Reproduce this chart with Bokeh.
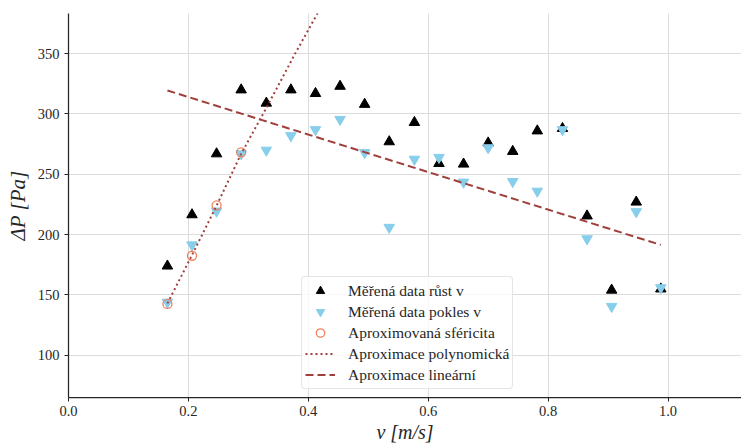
from bokeh.plotting import figure
from bokeh.models import Range1d, Legend, LegendItem, NumeralTickFormatter
from bokeh.embed import file_html
from bokeh.resources import INLINE

# measured velocities [m/s]
v = [0.165, 0.206, 0.247, 0.288, 0.330, 0.371, 0.412, 0.453, 0.494, 0.535, 0.577,
     0.618, 0.659, 0.700, 0.741, 0.782, 0.824, 0.865, 0.906, 0.947, 0.988]
# pressure drop, increasing velocity
dp_rust = [174, 216.5, 267, 320, 309, 320, 317, 323, 308, 277, 293,
           259, 258.5, 276, 269, 286, 288, 215.5, 154, 227, 155]
# pressure drop, decreasing velocity
dp_pokles = [144, 191.5, 219.5, 267, 270, 282, 287, 295.5, 268, 206, 262.5,
             264, 243.5, 272, 244, 236, 287, 196.5, 140.5, 219, 156]
# approximated sphericity
v_sfer = [0.165, 0.206, 0.247, 0.288]
dp_sfer = [142.6, 182.5, 224.3, 268.2]
# polynomial approximation
v_poly = [0.165, 0.206, 0.247, 0.288, 0.330, 0.378, 0.416]
dp_poly = [143, 183, 224, 267, 305, 350, 384]
# linear approximation
v_lin = [0.165, 0.988]
dp_lin = [319.5, 191.5]

x_ticks = [0.0, 0.2, 0.4, 0.6, 0.8, 1.0]
y_ticks = [100, 150, 200, 250, 300, 350]

FONT = "Liberation Serif"
TXT = "#262626"

p = figure(width=741, height=445, output_backend="svg", toolbar_location=None,
           x_range=Range1d(0, 1.1226), y_range=Range1d(65, 383.3),
           min_border_left=68, min_border_right=0, min_border_top=13,
           min_border_bottom=47)
p.outline_line_color = None
p.background_fill_color = "white"
p.border_fill_color = "white"

for ax in (p.xaxis[0], p.yaxis[0]):
    ax.axis_line_color = TXT
    ax.axis_line_width = 1.25
    ax.major_tick_line_color = TXT
    ax.major_tick_line_width = 1
    ax.major_tick_out = 4
    ax.major_tick_in = 0
    ax.minor_tick_line_color = None
    ax.major_label_text_font = FONT
    ax.major_label_text_font_size = "14.5px"
    ax.major_label_text_color = TXT
    ax.axis_label_text_font = FONT
    ax.axis_label_text_font_style = "italic"
    ax.axis_label_text_font_size = "20px"
    ax.axis_label_text_color = TXT

p.xaxis.ticker = x_ticks
p.yaxis.ticker = y_ticks
p.xaxis.formatter = NumeralTickFormatter(format="0.0")
p.xaxis.major_label_standoff = 4
p.xaxis.axis_label_standoff = 2
p.yaxis.major_label_standoff = 5
p.yaxis.axis_label_standoff = 5
p.yaxis.axis_label_text_font_size = "21px"
p.xaxis.axis_label = "v [m/s]"
p.yaxis.axis_label = "ΔP [Pa]"

p.xgrid.ticker = x_ticks
p.ygrid.ticker = y_ticks
p.xgrid.grid_line_color = "#dcdcdc"
p.ygrid.grid_line_color = "#dcdcdc"
p.xgrid.grid_line_width = 1
p.ygrid.grid_line_width = 1

r1 = p.scatter(v, dp_rust, marker="triangle", size=10.5, fill_color="black",
               line_color="black")
r2 = p.scatter(v, dp_pokles, marker="inverted_triangle", size=10.5,
               fill_color="#87CEEB", line_color="#87CEEB")
r3 = p.scatter(v_sfer, dp_sfer, marker="circle", size=9, fill_color=None,
               line_color="#ee8060", line_width=1.3)
r4 = p.line(v_poly, dp_poly, line_color="#a0403c", line_width=2,
            line_dash="2 3")
r5 = p.line(v_lin, dp_lin, line_color="#a0403c", line_width=2,
            line_dash="8 4")

legend = Legend(items=[
    LegendItem(label="Měřená data růst v", renderers=[r1]),
    LegendItem(label="Měřená data pokles v", renderers=[r2]),
    LegendItem(label="Aproximovaná sféricita", renderers=[r3]),
    LegendItem(label="Aproximace polynomická", renderers=[r4]),
    LegendItem(label="Aproximace lineární", renderers=[r5]),
], location=(233, 8))
legend.margin = 0
legend.padding = 3
legend.spacing = 0
legend.glyph_width = 30
legend.glyph_height = 21
legend.label_height = 21
legend.label_standoff = 13
legend.label_text_font = FONT
legend.label_text_font_size = "15.5px"
legend.label_text_color = TXT
legend.border_line_color = "#cccccc"
legend.border_line_width = 1
legend.border_radius = 4
legend.background_fill_color = "white"
legend.background_fill_alpha = 0.8
p.add_layout(legend)

open("out.html", "w").write(file_html(p, INLINE))
